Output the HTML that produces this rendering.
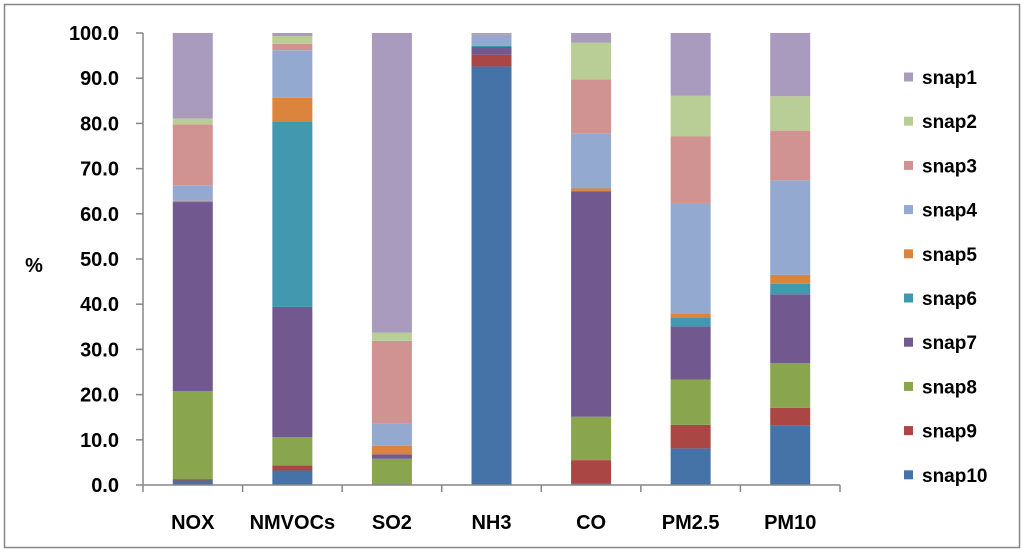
<!DOCTYPE html>
<html><head><meta charset="utf-8"><style>
body{margin:0;background:#fff;}
svg{display:block;font-family:"Liberation Sans",Arial,sans-serif;font-weight:bold;}
</style></head><body>
<svg id="chart" width="1024" height="552" viewBox="0 0 1024 552">
<rect x="4.5" y="4.5" width="1015" height="543" fill="#fff" stroke="#868686" stroke-width="1.5"/>
<g id="grid"></g><g id="bars"></g><g id="axes"></g><g id="legend"></g>
<text x="34" y="272" font-size="20" text-anchor="middle">%</text>
</svg>
<script>
const categories=["NOX","NMVOCs","SO2","NH3","CO","PM2.5","PM10"];
const seriesNames=["snap10","snap9","snap8","snap7","snap6","snap5","snap4","snap3","snap2","snap1"];
const snap10=[1.0,3.2,0.1,92.6,0.3,8.1,13.1];
const snap9=[0.3,1.1,0.1,2.6,5.2,5.2,4.0];
const snap8=[19.5,6.3,5.6,0,9.6,10.0,9.9];
const snap7=[41.8,28.8,1.0,1.7,49.9,11.8,15.2];
const snap6=[0.1,41.0,0,0.3,0,2.0,2.3];
const snap5=[0.2,5.3,1.9,0,0.6,0.9,2.0];
const snap4=[3.4,10.5,5.0,2.5,12.1,24.4,20.9];
const snap3=[13.5,1.4,18.2,0.3,12.0,14.7,11.0];
const snap2=[1.3,1.7,1.8,0,8.2,9.0,7.6];
const snap1=[18.9,0.7,66.3,0,2.1,13.9,14.0];
const yTicks=["0.0","10.0","20.0","30.0","40.0","50.0","60.0","70.0","80.0","90.0","100.0"];
const series=[snap10,snap9,snap8,snap7,snap6,snap5,snap4,snap3,snap2,snap1];
const colors=["#4572a7","#aa4643","#89a54e","#71588f","#4198af","#db843d","#93a9cf","#d19392","#b9cd96","#a99bbd"];
const NS="http://www.w3.org/2000/svg";
const x0=143,x1=840,y0=485,y1=33;
const band=(x1-x0)/categories.length;
const yS=v=>y0-(v/100)*(y0-y1);
const xC=i=>x0+band*(i+0.5);
function mk(t,a,p){const e=document.createElementNS(NS,t);for(const k in a)e.setAttribute(k,a[k]);p.appendChild(e);return e;}
const bars=document.getElementById('bars'),axes=document.getElementById('axes'),legend=document.getElementById('legend');
categories.forEach((c,i)=>{let cum=0;series.forEach((s,j)=>{const v=s[i];const top=yS(cum+v),bot=yS(cum);cum+=v;if(v<=0)return;
const r=mk('rect',{x:xC(i)-20,y:top,width:40,height:bot-top,fill:colors[j]},bars);

});
const t=mk('text',{x:xC(i),y:529,'font-size':20,'text-anchor':'middle'},axes);t.textContent=c;

});
const ya=mk('line',{x1:x0,y1:y1,x2:x0,y2:y0,stroke:'#868686','stroke-width':1.5},axes);

const xa=mk('line',{x1:x0,y1:y0,x2:x1,y2:y0,stroke:'#868686','stroke-width':1.5},axes);

yTicks.forEach((l,k)=>{const v=parseFloat(l),y=yS(v);mk('line',{x1:x0-7,y1:y,x2:x0,y2:y,stroke:'#868686','stroke-width':1.5},axes);
const t=mk('text',{x:119,y:y+7,'font-size':20,'text-anchor':'end'},axes);t.textContent=l;
});
for(let i=0;i<=categories.length;i++){const x=x0+band*i;mk('line',{x1:x,y1:y0,x2:x,y2:y0+7,stroke:'#868686','stroke-width':1.5},axes);}
for(let k=0;k<10;k++){const j=9-k;const y=77+k*44.2;
const g=mk('g',{},legend);
mk('rect',{x:904,y:y-4.5,width:9,height:9,fill:colors[j]},g);
const t=mk('text',{x:922,y:y+7,'font-size':19},g);t.textContent=seriesNames[j];}
</script>
</body></html>
